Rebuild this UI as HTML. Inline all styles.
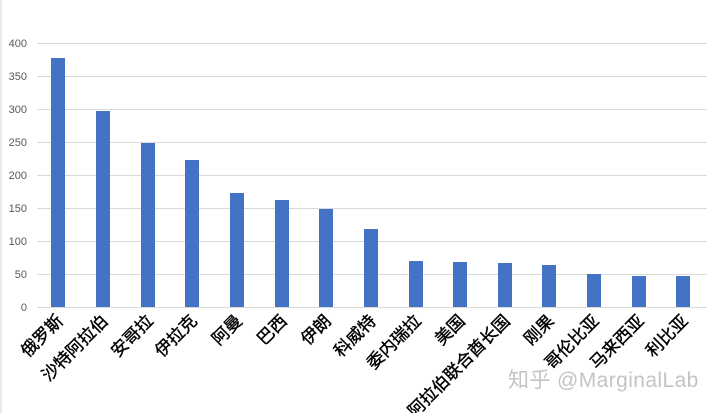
<!DOCTYPE html>
<html><head><meta charset="utf-8"><style>
html,body{margin:0;padding:0;background:#fff;width:720px;height:413px;overflow:hidden}
</style></head><body>
<svg width="720" height="413" xmlns="http://www.w3.org/2000/svg" font-family="Liberation Sans, Noto Sans CJK SC, sans-serif">
<rect x="0" y="0" width="720" height="413" fill="#fff"/>
<line x1="1" y1="0" x2="1" y2="413" stroke="#d0d0d0" stroke-width="1"/>
<g stroke="#d9d9d9" stroke-width="1">
<line x1="37" y1="43.5" x2="707" y2="43.5"/>
<line x1="37" y1="76.5" x2="707" y2="76.5"/>
<line x1="37" y1="109.5" x2="707" y2="109.5"/>
<line x1="37" y1="142.5" x2="707" y2="142.5"/>
<line x1="37" y1="175.5" x2="707" y2="175.5"/>
<line x1="37" y1="208.5" x2="707" y2="208.5"/>
<line x1="37" y1="241.5" x2="707" y2="241.5"/>
<line x1="37" y1="274.5" x2="707" y2="274.5"/>
<line x1="37" y1="307.5" x2="707" y2="307.5"/>
</g>
<g font-size="11" fill="#595959" text-anchor="end">
<text x="27" y="47">400</text><text x="27" y="80">350</text><text x="27" y="113">300</text>
<text x="27" y="146">250</text><text x="27" y="179">200</text><text x="27" y="212">150</text>
<text x="27" y="245">100</text><text x="27" y="278">50</text><text x="27" y="311">0</text>
</g>
<g fill="#4472c4">
<rect x="51" y="58" width="14" height="249"/>
<rect x="96" y="111" width="14" height="196"/>
<rect x="141" y="143" width="14" height="164"/>
<rect x="185" y="160" width="14" height="147"/>
<rect x="230" y="193" width="14" height="114"/>
<rect x="275" y="200" width="14" height="107"/>
<rect x="319" y="209" width="14" height="98"/>
<rect x="364" y="229" width="14" height="78"/>
<rect x="409" y="261" width="14" height="46"/>
<rect x="453" y="262" width="14" height="45"/>
<rect x="498" y="263" width="14" height="44"/>
<rect x="542" y="265" width="14" height="42"/>
<rect x="587" y="274" width="14" height="33"/>
<rect x="632" y="276" width="14" height="31"/>
<rect x="676" y="276" width="14" height="31"/>
</g>
<g font-size="17" fill="#000" stroke="#000" stroke-width="0.4" text-anchor="end">
<text transform="translate(64,322) rotate(-45)">俄罗斯</text>
<text transform="translate(109,322) rotate(-45)">沙特阿拉伯</text>
<text transform="translate(154,322) rotate(-45)">安哥拉</text>
<text transform="translate(198,322) rotate(-45)">伊拉克</text>
<text transform="translate(243,322) rotate(-45)">阿曼</text>
<text transform="translate(288,322) rotate(-45)">巴西</text>
<text transform="translate(332,322) rotate(-45)">伊朗</text>
<text transform="translate(377,322) rotate(-45)">科威特</text>
<text transform="translate(422,322) rotate(-45)">委内瑞拉</text>
<text transform="translate(466,322) rotate(-45)">美国</text>
<text transform="translate(511,322) rotate(-45)">阿拉伯联合酋长国</text>
<text transform="translate(555,322) rotate(-45)">刚果</text>
<text transform="translate(600,322) rotate(-45)">哥伦比亚</text>
<text transform="translate(645,322) rotate(-45)">马来西亚</text>
<text transform="translate(689,322) rotate(-45)">利比亚</text>
</g>
<text x="508" y="387" font-size="21" letter-spacing="0.4" fill="#c4c4c4">知乎 @MarginalLab</text>
</svg>
</body></html>
